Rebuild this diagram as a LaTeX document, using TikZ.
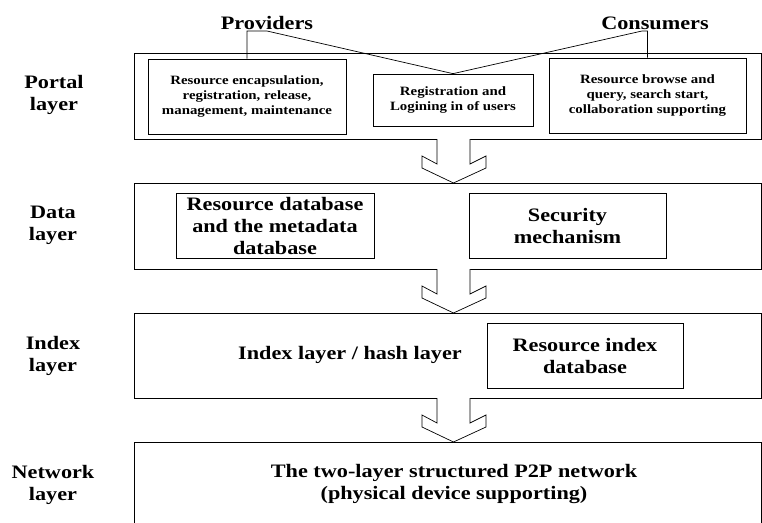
\documentclass[tikz,border=0pt]{standalone}
\usepackage{fontspec}
\setmainfont[FakeStretch=1.17]{Liberation Serif}
\begin{document}
\begin{tikzpicture}[x=1pt,y=-1pt,
  layerbox/.style={draw, line width=0.8pt, inner sep=0pt, minimum width=627pt},
  inbox/.style={draw, line width=0.7pt, inner sep=0pt, align=center},
  smalltxt/.style={font=\fontsize{12.7}{15}\selectfont\bfseries},
  bigtxt/.style={font=\fontsize{19}{22}\selectfont\bfseries},
  lbl/.style={bigtxt, align=center, inner sep=0pt},
  conn/.style={line width=0.7pt},
  blockarrow/.style={draw, line width=0.7pt, fill=white}]
\useasboundingbox (0,0) rectangle (762,522);

% layer boxes
\node[layerbox, minimum height=86pt] (portal) at (447.5,96) {};
\node[layerbox, minimum height=86pt] (data) at (447.5,226) {};
\node[layerbox, minimum height=85pt] (index) at (447.5,355.5) {};
\draw[line width=0.8pt] (134,524) -- (134,442) -- (761,442) -- (761,524);

% layer labels
\node[lbl] (lportal) at (54,95) {Portal\\layer};
\node[lbl] (ldata) at (53,225) {Data\\layer};
\node[lbl] (lindex) at (53,355.5) {Index\\layer};
\node[lbl] (lnet) at (53,485) {Network\\layer};

% portal layer
\node[inbox, smalltxt, minimum width=198pt, minimum height=75pt] (b1) at (247,96.5)
  {Resource encapsulation,\\registration, release,\\management, maintenance};
\node[inbox, smalltxt, minimum width=160pt, minimum height=52pt] (b2) at (453,100)
  {Registration and\\Logining in of users};
\node[inbox, smalltxt, minimum width=197pt, minimum height=75pt] (b3) at (647.5,95.5)
  {Resource browse and\\query, search start,\\collaboration supporting};

% providers / consumers
\node[bigtxt, anchor=base, inner sep=0pt] (prov) at (267,29) {Providers};
\node[bigtxt, anchor=base, inner sep=0pt] (cons) at (655,29) {Consumers};
\coordinate (pj1) at (247,31);
\coordinate (pj2) at (267,31);
\coordinate (cj1) at (642,31);
\coordinate (cj2) at (647.5,31);
\draw[conn] (b1.north) -- (pj1) -- (pj2) -- (b2.north);
\draw[conn] (b2.north) -- (cj1) -- (cj2) -- (b3.north);

% data layer
\node[inbox, bigtxt, minimum width=198pt, minimum height=65pt] (ba) at (275,225.5)
  {Resource database\\ and the metadata\\database};
\node[inbox, bigtxt, minimum width=197pt, minimum height=65pt] (bb) at (567.5,225.5)
  {Security\\mechanism};

% index layer
\node[bigtxt, inner sep=0pt] (itxt) at (350,355) {Index layer / hash layer};
\node[inbox, bigtxt, minimum width=196pt, minimum height=65pt] (bc) at (585,355.5)
  {Resource index\\database};

% network layer
\node[bigtxt, align=center, inner sep=0pt] (ntxt) at (454,484)
  {The two-layer structured P2P network\\(physical device supporting)};

% block arrows
\foreach \T in {139,269,398} {
  \begin{scope}[shift={(0,\T)}]
    \draw[blockarrow] (437,0) -- (437,25) -- (422,17) -- (422,29) -- (453.5,44)
      -- (486,29) -- (486,17) -- (470,25) -- (470,0);
  \end{scope}
}
\end{tikzpicture}
\end{document}
